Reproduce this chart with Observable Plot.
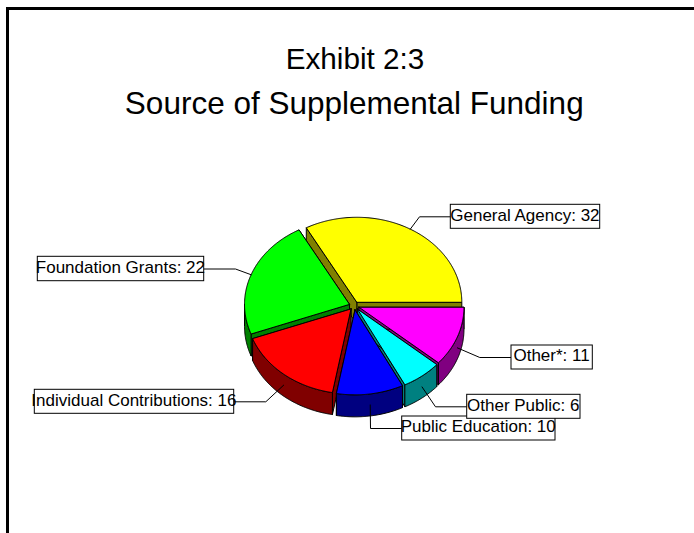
<!DOCTYPE html>
<html>
<head>
<meta charset="utf-8">
<script src="https://cdn.jsdelivr.net/npm/d3@7"></script>
<script src="https://cdn.jsdelivr.net/npm/@observablehq/plot@0.6"></script>
<style>
  html, body { margin: 0; padding: 0; background: #fff; overflow: hidden; }
</style>
</head>
<body>
<div id="chart"></div>
<script>
// Funding sources, counter-clockwise from the east edge of the pie.
const categories = ["General Agency", "Foundation Grants", "Individual Contributions", "Public Education", "Other Public", "Other*"];
const amounts = [32, 22, 16, 10, 6, 11];
const topColors = ["#ffff00", "#00ff00", "#ff0000", "#0000ff", "#00ffff", "#ff00ff"];
const sideColors = ["#808000", "#008000", "#800000", "#000080", "#008080", "#800080"];
const titleLines = ["Exhibit 2:3", "Source of Supplemental Funding"];

// Pie shape, in chart units around the centre of the pie.
const radiusX = 105, radiusY = 85, depth = 22, explode = 0.048;
const width = 694, height = 533, centreX = 353.75, centreY = 305.3;

// Callout boxes [left, top, right, bottom] and the x of each leader's bend.
const calloutBoxes = [
  [96.55, -101, 245.95, -77],
  [-316.45, -49, -150.05, -24.6],
  [-319.45, 84, -120.05, 108],
  [47.95, 110.7, 201.25, 134.7],
  [112.95, 89, 226.25, 113],
  [157.25, 39.7, 238.55, 63.7]
];
const bendX = [65.25, -118.75, -88.45, 16.25, 81.25, 125.55];

const total = d3.sum(amounts);
const cumulative = d3.cumsum(amounts);
const toAngle = (v) => (v / total) * 2 * Math.PI;

const slices = amounts.map((v, i) => {
  const a0 = toAngle(cumulative[i] - v);
  const a1 = toAngle(cumulative[i]);
  const mid = (a0 + a1) / 2;
  return {
    i, a0, a1, mid,
    cx: explode * radiusX * Math.cos(mid),
    cy: -explode * radiusY * Math.sin(mid)
  };
});

const rimPoint = (s, a, drop = 0) => ({
  x: s.cx + radiusX * Math.cos(a),
  y: s.cy - radiusY * Math.sin(a) + drop
});
const apexPoint = (s, drop = 0) => ({ x: s.cx, y: s.cy + drop });
const arc = (s, a0, a1, drop = 0) => {
  const n = Math.max(2, Math.ceil((a1 - a0) / 0.01));
  return d3.range(n + 1).map((k) => rimPoint(s, a0 + ((a1 - a0) * k) / n, drop));
};

// Closed polygons for one slice: radial walls, outer wall, then the top face.
function slicePolygons(s) {
  const polygons = [];
  const wall = (a) => [apexPoint(s), rimPoint(s, a), rimPoint(s, a, depth), apexPoint(s, depth)];
  polygons.push({ points: wall(s.a0), fill: sideColors[s.i] });
  polygons.push({ points: wall(s.a1), fill: sideColors[s.i] });
  const from = Math.max(s.a0, Math.PI);
  if (from < s.a1) {
    polygons.push({
      points: [...arc(s, from, s.a1), ...arc(s, from, s.a1, depth).reverse()],
      fill: sideColors[s.i]
    });
  }
  polygons.push({ points: [apexPoint(s), ...arc(s, s.a0, s.a1)], fill: topColors[s.i] });
  return polygons;
}

// Back-to-front painting order: slices further up the screen go first.
const ordered = [...slices].sort((a, b) => a.cy - b.cy);
const pieRows = ordered
  .flatMap(slicePolygons)
  .flatMap((poly, id) => [...poly.points, poly.points[0]].map((p) => ({ ...p, id, fill: poly.fill })));

// Leaders start on the rim at mid-angle: on the wall where the rim faces the viewer.
const leaderRows = slices.flatMap((s) => {
  const box = calloutBoxes[s.i];
  const midY = (box[1] + box[3]) / 2;
  const start = rimPoint(s, s.mid, Math.sin(s.mid) < 0 ? depth / 2 : 0);
  const edgeX = bendX[s.i] < 0 ? box[2] : box[0];
  return [start, { x: bendX[s.i], y: midY }, { x: edgeX, y: midY }].map((p) => ({ ...p, id: s.i }));
});

const callouts = slices.map((s) => {
  const [x1, y1, x2, y2] = calloutBoxes[s.i];
  return { x1, y1, x2, y2, x: (x1 + x2) / 2, y: (y1 + y2) / 2, label: `${categories[s.i]}: ${amounts[s.i]}` };
});

const chart = Plot.plot({
  width, height,
  margin: 0,
  style: { fontFamily: "'Liberation Sans', Arial, sans-serif", background: "#fff", color: "#000" },
  x: { axis: null, domain: [-centreX, width - centreX], range: [0, width] },
  y: { axis: null, domain: [-centreY, height - centreY], range: [0, height] },
  color: { type: "identity" },
  marks: [
    // Page border: top and left edges only.
    Plot.ruleY([8 - centreY], { x1: 6 - centreX, x2: width - centreX, stroke: "#000", strokeWidth: 3 }),
    Plot.ruleX([7 - centreX], { y1: 7 - centreY, y2: height - centreY, stroke: "#000", strokeWidth: 3 }),
    Plot.text([titleLines[0]], { x: 0.7, y: 58.5 - centreY, text: (d) => d, fontSize: 29.7, fill: "#000" }),
    Plot.text([titleLines[1]], { x: 0, y: 103 - centreY, text: (d) => d, fontSize: 31.5, fill: "#000" }),
    Plot.line(pieRows, {
      x: "x", y: "y", z: "id",
      fill: (d) => d.fill,
      stroke: "#000",
      strokeWidth: 1,
      strokeLinejoin: "round"
    }),
    Plot.line(leaderRows, { x: "x", y: "y", z: "id", stroke: "#000", strokeWidth: 1 }),
    Plot.rect(callouts, { x1: "x1", x2: "x2", y1: "y1", y2: "y2", fill: "#fff", stroke: "#000", strokeWidth: 1 }),
    Plot.text(callouts, { x: "x", y: "y", dx: -0.6, dy: -1.5, text: "label", fontSize: 17, fill: "#000" })
  ]
});
document.getElementById("chart").append(chart);
</script>
</body>
</html>
